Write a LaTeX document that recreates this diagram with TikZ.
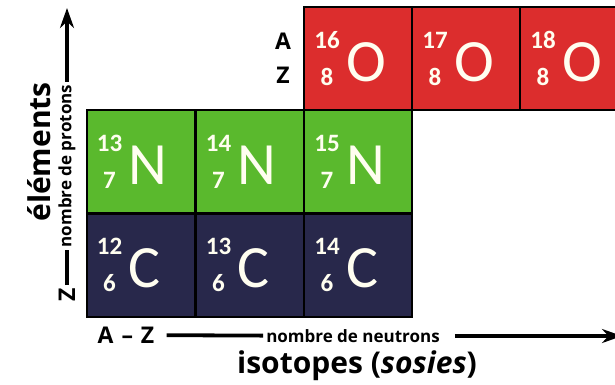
\documentclass[tikz,border=0pt]{standalone}
\usepackage{fontspec}
\setmainfont{Open Sans}
\newfontfamily\cellfont{Carlito}
\usetikzlibrary{arrows.meta, positioning}
\definecolor{oxred}{RGB}{220,45,45}
\definecolor{nigreen}{RGB}{90,185,45}
\definecolor{carbnavy}{RGB}{40,40,75}
\newcommand{\isofig}{\cellfont\fontsize{25}{25}\selectfont\bfseries}
\newcommand{\isosym}{\cellfont\fontsize{60}{60}\selectfont}
\newcommand{\iso}[3]{%
  \makebox[28pt][c]{\raisebox{33pt}{\makebox[0pt]{\isofig #1}}\raisebox{-4pt}{\makebox[0pt]{\isofig #2}}}%
  \hspace{5pt}{\isosym #3}}
\tikzset{
  cellbox/.style  = {draw=black, line width=2pt, minimum width=108pt, minimum height=103pt,
                     text width=90pt, inner xsep=9pt, align=left, text=white!94!yellow},
  ocell/.style    = {cellbox, fill=oxred},
  ncell/.style    = {cellbox, fill=nigreen},
  ccell/.style    = {cellbox, fill=carbnavy},
  axislab/.style  = {font=\fontsize{23}{23}\selectfont\bfseries, inner sep=3pt},
  axistxt/.style  = {font=\fontsize{17}{17}\selectfont\bfseries, inner sep=3pt},
  bigtitle/.style = {font=\fontsize{30}{30}\selectfont\bfseries, inner sep=0pt},
  axisline/.style = {line width=3.8pt, line cap=butt},
  axisarrow/.style= {axisline, -{Stealth[length=20pt, width=14pt]}},
}

\begin{document}
\begin{tikzpicture}[x=1pt, y=-1pt]
  \useasboundingbox (0,0) rectangle (615,384);
  \node[ccell] (c12) at (140.5,265) {\iso{12}{6}{C}};
  \node[ccell] (c13) at (249.5,265) {\iso{13}{6}{C}};
  \node[ccell] (c14) at (358,265) {\iso{14}{6}{C}};
  \node[ncell] (n13) at (140.5,161.5) {\iso{13}{7}{N}};
  \node[ncell] (n14) at (249.5,161.5) {\iso{14}{7}{N}};
  \node[ncell] (n15) at (358,161.5) {\iso{15}{7}{N}};
  \node[ocell] (o16) at (358,58.5) {\iso{16}{8}{O}};
  \node[ocell] (o17) at (466,58.5) {\iso{17}{8}{O}};
  \node[ocell] (o18) at (574,58.5) {\iso{18}{8}{O}};
  \node[axislab] (alab) at (283,41) {A};
  \node[axislab] (zlab) at (283,75) {Z};
  \node[bigtitle, rotate=90] (elem) at (39,152) {éléments};
  \node[axislab, rotate=90] (zaxis) at (67,295) {Z};
  \node[axistxt, rotate=90] (prot) at (67,166) {nombre de protons};
  \coordinate (ytip) at (67,8);
  \draw[axisline] (zaxis) -- (prot);
  \draw[axisarrow] (prot) -- (ytip);
  \node[axislab] (azlab) at (126,335) {A\hspace{2pt} -- \hspace{2pt}Z};
  \node[axistxt] (neut) at (353,336) {nombre de neutrons};
  \coordinate (xtip) at (622,336);
  \draw[axisline, shorten <=9pt] (azlab) -- (neut);
  \draw[axisarrow, shorten <=12pt] (neut) -- (xtip);
  \node[bigtitle] (iso) at (357,366) {isotopes (\textit{sosies})};
\end{tikzpicture}
\end{document}
